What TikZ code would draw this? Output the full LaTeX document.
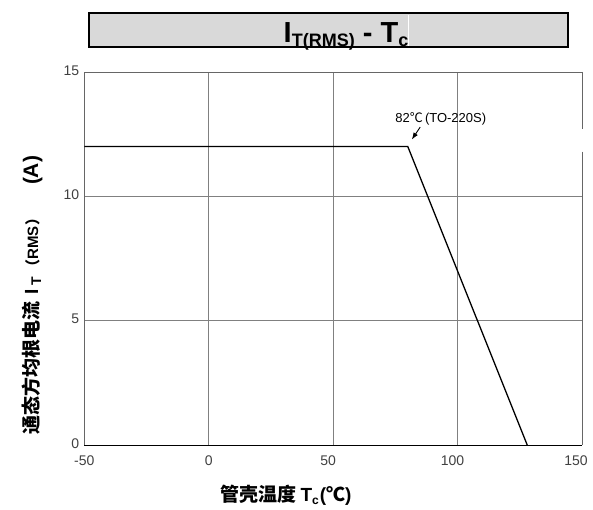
\documentclass[tikz,border=0pt]{standalone}
\usepackage{fontspec}
\setmainfont{Liberation Sans}
\newfontfamily\cjk{Noto Sans CJK SC}
\usetikzlibrary{arrows.meta}

\colorlet{TitleFill}{black!15}
\colorlet{GridLine}{black!50}
\colorlet{FrameLine}{black!60}

\begin{document}
\begin{tikzpicture}[x=1pt,y=1pt,
    ticklabel/.style={font=\fontsize{14}{14}\selectfont, text=black!75, inner sep=0pt},
    axislabel/.style={font=\fontsize{19}{19}\selectfont\bfseries, inner sep=0pt}]

    \useasboundingbox (0,0) rectangle (593,509);

    % title
    \node[draw, line width=2pt, fill=TitleFill, minimum width=479pt, minimum height=34pt, inner sep=0pt] (titlebox) at (328.5,479) {};
    \draw[white, line width=0.8pt] (408,463) -- (408,494);
    \node[anchor=base, inner sep=0pt, font=\fontsize{29}{29}\selectfont\bfseries] (title) at (346,466.3)
        {I\raisebox{-4pt}{\fontsize{18}{18}\selectfont T(RMS)} - T\raisebox{-4pt}{\fontsize{18}{18}\selectfont c}};

    % axis labels
    \node[axislabel, rotate=90] (ylabel) at (32,214)
        {{\cjk 通态方均根电流}\hspace{7pt}I\hspace{3pt}\raisebox{-3pt}{\fontsize{14}{14}\selectfont T}\hspace{3pt}{\fontsize{15}{15}\selectfont{\cjk （}RMS{\cjk ）}}\hspace{26pt}{\fontsize{21}{21}\selectfont (A)}};
    \node[axislabel] (xlabel) at (286,14)
        {{\cjk 管壳温度}\hspace{4pt}T\raisebox{-3pt}{\fontsize{12}{12}\selectfont c}\hspace{1pt}({\cjk ℃})};

    \begin{scope}[shift={(208.7pt,64pt)}, x=2.4885pt, y=24.867pt]
        % grid
        \foreach \t in {0,50,100}
            \draw[GridLine, line width=0.8pt] (\t,0) -- (\t,15);
        \foreach \i in {5,10}
            \draw[GridLine, line width=0.8pt] (-50,\i) -- (150,\i);

        % frame
        \draw[FrameLine, line width=0.9pt] (150,15) -- (-50,15) -- (-50,0);
        \draw[FrameLine, line width=0.9pt] (150,15) -- (150,12.7);
        \draw[FrameLine, line width=0.9pt] (150,11.8) -- (150,0);
        \draw[black, line width=1pt] (-50,0) -- (150,0);

        % tick labels
        \foreach \t/\dx [count=\k] in {-50/0,0/0,50/-5,100/-5,150/-6}
            \node[ticklabel] (xtick\k) at ([shift={(\dx pt,-16pt)}]\t,0) {\t};
        \foreach \i in {0,5,10,15}
            \node[ticklabel, anchor=east] (ytick\i) at ([shift={(-5pt,1.5pt)}]-50,\i) {\i};

        % derating curve
        \draw[line width=1.3pt] (-50,12) -- (80,12) coordinate (knee) -- (128,0);

        % note
        \node[inner sep=0pt, font=\fontsize{13}{13}\selectfont] (note) at ([shift={(33pt,28pt)}]knee) {82{\cjk ℃}\,(TO-220S)};
        \coordinate (tip) at ([shift={(4pt,7pt)}]knee);
        \draw[-{Latex[length=7pt,width=5pt]}, line width=0.9pt] ([shift={(25pt,-2pt)}]note.south west) -- (tip);
    \end{scope}
\end{tikzpicture}
\end{document}
